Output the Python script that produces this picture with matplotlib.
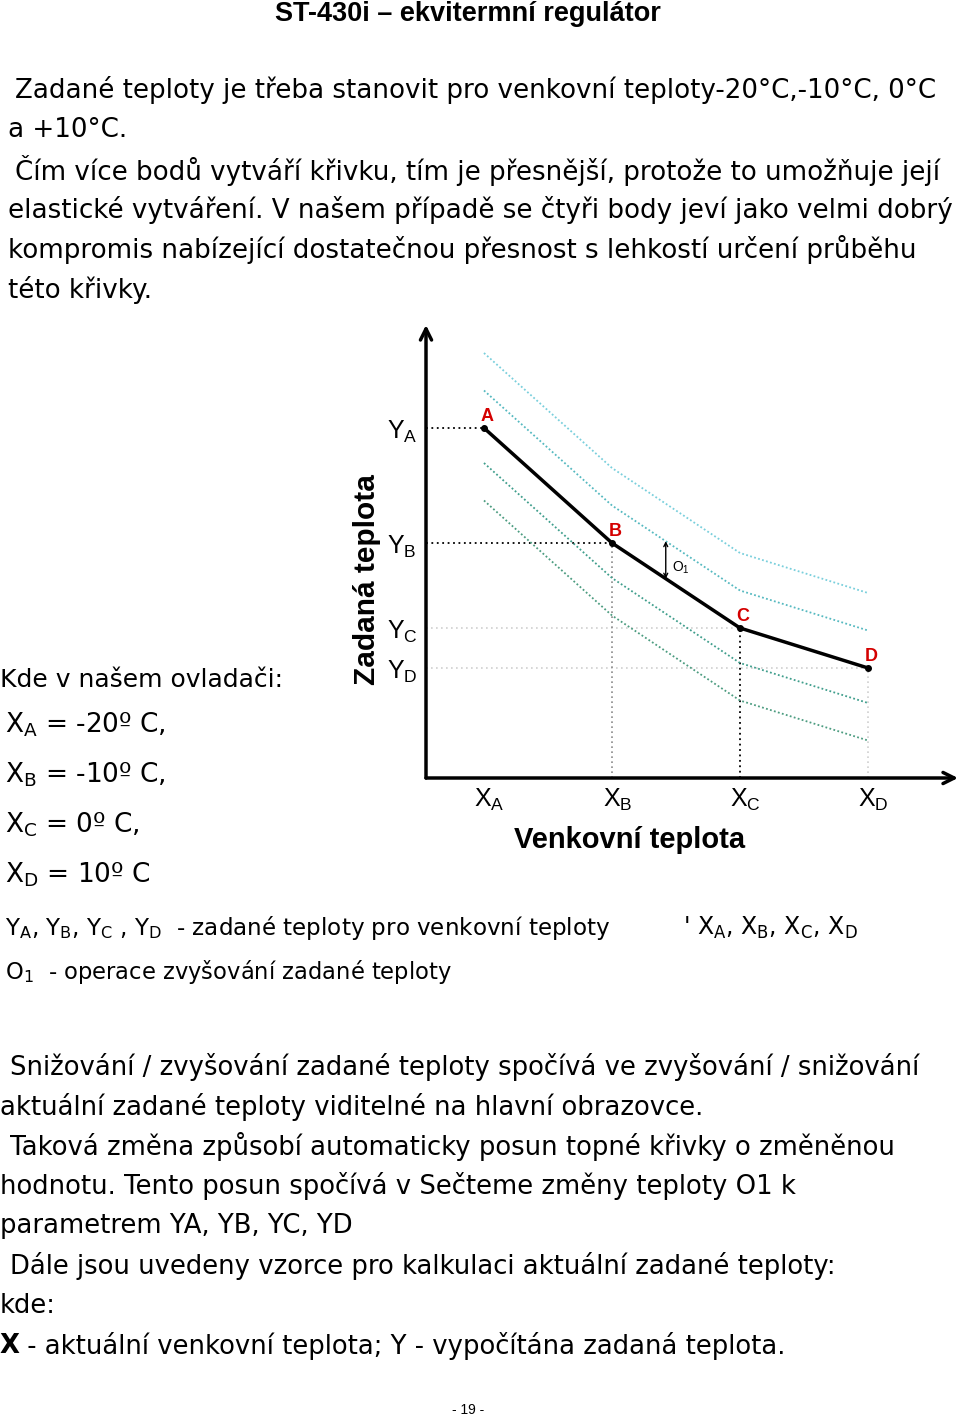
import matplotlib
matplotlib.use("Agg")
import matplotlib.pyplot as plt
import numpy as np

# heating curve: outdoor temps X_A..X_D and set temps Y_A..Y_D (arbitrary units)
out_temp = [-20, -10, 0, 10]
set_temp = [70, 47, 30, 22]
point_names = ["A", "B", "C", "D"]
# parallel shifted curves (O1 shifts)
shift_offsets = [15, 7.5, -7, -14.5]
shift_colors = ["#79cfdc", "#55b9c0", "#3f9e8c", "#4c9c80"]

top_lines = [
    " Zadané teploty je třeba stanovit pro venkovní teploty-20°C,-10°C, 0°C",
    "a +10°C.",
    " Čím více bodů vytváří křivku, tím je přesnější, protože to umožňuje její",
    "elastické vytváření. V našem případě se čtyři body jeví jako velmi dobrý",
    "kompromis nabízející dostatečnou přesnost s lehkostí určení průběhu",
    "této křivky.",
]
legend_lines = [
    "Kde v našem ovladači:",
    r"X$_\mathregular{A}$ = -20º C,",
    r"X$_\mathregular{B}$ = -10º C,",
    r"X$_\mathregular{C}$ = 0º C,",
    r"X$_\mathregular{D}$ = 10º C",
]
bottom_lines = [
    " Snižování / zvyšování zadané teploty spočívá ve zvyšování / snižování",
    "aktuální zadané teploty viditelné na hlavní obrazovce.",
    " Taková změna způsobí automaticky posun topné křivky o změněnou",
    "hodnotu. Tento posun spočívá v Sečteme změny teploty O1 k",
    "parametrem YA, YB, YC, YD",
    " Dále jsou uvedeny vzorce pro kalkulaci aktuální zadané teploty:",
    "kde:",
]

W, H = 960, 1418
fig = plt.figure(figsize=(W / 100, H / 100), dpi=100)

body = "DejaVu Sans"
arial = "Liberation Sans"

# ---- chart ----
ax = fig.add_axes([426 / W, 1 - 778 / H, (958 - 426) / W, (778 - 325) / H])
xmin, xmax = -24.53, 17.03
ymin, ymax = 0, 90.6
ax.set_xlim(xmin, xmax)
ax.set_ylim(ymin, ymax)
ax.axis("off")

arr = dict(arrowstyle="->", lw=2.5, color="black", shrinkA=0, shrinkB=0,
           mutation_scale=20)
ax.annotate("", xy=(xmin, ymax), xytext=(xmin, ymin), arrowprops=arr,
            annotation_clip=False)
ax.annotate("", xy=(xmax, ymin), xytext=(xmin, ymin), arrowprops=arr,
            annotation_clip=False)

xA, xB, xC, xD = out_temp
yA, yB, yC, yD = set_temp
dot = (0, (1, 2))
ax.plot([xmin, xA], [yA, yA], color="black", ls=dot, lw=1.3)
ax.plot([xmin, xB], [yB, yB], color="black", ls=dot, lw=1.3)
ax.plot([xmin, xC], [yC, yC], color="#cfcfcf", ls=dot, lw=1.2)
ax.plot([xmin, xD], [yD, yD], color="#cfcfcf", ls=dot, lw=1.2)
ax.plot([xB, xB], [ymin, yB], color="#8a8a8a", ls=dot, lw=1.2)
ax.plot([xC, xC], [ymin, yC], color="black", ls=dot, lw=1.3)
ax.plot([xD, xD], [ymin, yD], color="#cfcfcf", ls=dot, lw=1.2)

for off, col in zip(shift_offsets, shift_colors):
    ax.plot(out_temp, [y + off for y in set_temp], color=col,
            ls=(0, (1, 1.3)), lw=1.3)

ax.plot(out_temp, set_temp, color="black", lw=2.5, marker="o", ms=4)

# O1 shift arrow
x0 = -5.8
y_main = np.interp(x0, out_temp, set_temp)
y_up = y_main + shift_offsets[1]
ax.annotate("", xy=(x0, y_up), xytext=(x0, y_main),
            arrowprops=dict(arrowstyle="<->", lw=1, color="black",
                            shrinkA=0, shrinkB=0, mutation_scale=7))
ax.text(x0 + 0.45, (y_main + y_up) / 2 - 1.5, r"O$_\mathregular{1}$",
        fontsize=10, family=arial, va="center", ha="left")

for name, x, y in zip(point_names, out_temp, set_temp):
    ax.annotate(name, (x, y), xytext=(2, 8), textcoords="offset points",
                ha="center", va="center", color="#d40000", fontsize=13,
                fontweight="bold", family=arial)
    ax.text(-26.4, y - 0.8, r"Y$_\mathregular{%s}$" % name, ha="center",
            va="center", fontsize=18, family=arial, clip_on=False)
    ax.text(x + 0.45, -4.4, r"X$_\mathregular{%s}$" % name, ha="center",
            va="center", fontsize=18, family=arial, clip_on=False)

# ---- page text (pixel coordinates) ----
tx = fig.add_axes([0, 0, 1, 1])
tx.set_xlim(0, W)
tx.set_ylim(H, 0)
tx.axis("off")

tx.text(468, 14, "ST-430i – ekvitermní regulátor", ha="center", va="center",
        fontsize=19.5, fontweight="bold", family=arial)

for i, line in enumerate(top_lines):
    x = 15 if line.startswith(" ") else 8
    tx.text(x, 90 + 40 * i, line.strip(), ha="left", va="center",
            fontsize=18.8, family=body)

tx.text(367, 580, "Zadaná teplota", rotation=90, ha="center", va="center",
        fontsize=21.5, fontweight="bold", family=arial)
tx.text(630, 840, "Venkovní teplota", ha="center", va="center",
        fontsize=21, fontweight="bold", family=arial)

tx.text(0, 680, legend_lines[0], ha="left", va="center", fontsize=18,
        family=body)
for i, line in enumerate(legend_lines[1:]):
    tx.text(5, 725 + 50 * i, line, ha="left", va="center", fontsize=19,
            family=body)

tx.text(5, 928, r"Y$_\mathregular{A}$, Y$_\mathregular{B}$, Y$_\mathregular{C}$ , "
        r"Y$_\mathregular{D}$  - zadané teploty pro venkovní teploty",
        ha="left", va="center", fontsize=16.6, family=body)
tx.text(683, 928, r"' X$_\mathregular{A}$, X$_\mathregular{B}$, "
        r"X$_\mathregular{C}$, X$_\mathregular{D}$",
        ha="left", va="center", fontsize=17, family=body)
tx.text(5, 972, r"O$_\mathregular{1}$  - operace zvyšování zadané teploty",
        ha="left", va="center", fontsize=16.3, family=body)

for i, line in enumerate(bottom_lines):
    x = 10 if line.startswith(" ") else 0
    tx.text(x, 1067 + 39.8 * i, line.strip(), ha="left", va="center",
            fontsize=18.6, family=body)
tx.text(0, 1346, "X", ha="left", va="center", fontsize=18.6,
        fontweight="bold", family=body)
tx.text(19, 1346, " - aktuální venkovní teplota; Y - vypočítána zadaná teplota.",
        ha="left", va="center", fontsize=18.6, family=body)

tx.text(468, 1410, "- 19 -", ha="center", va="center", fontsize=10,
        family=arial)

fig.savefig("out.png", dpi=100)
